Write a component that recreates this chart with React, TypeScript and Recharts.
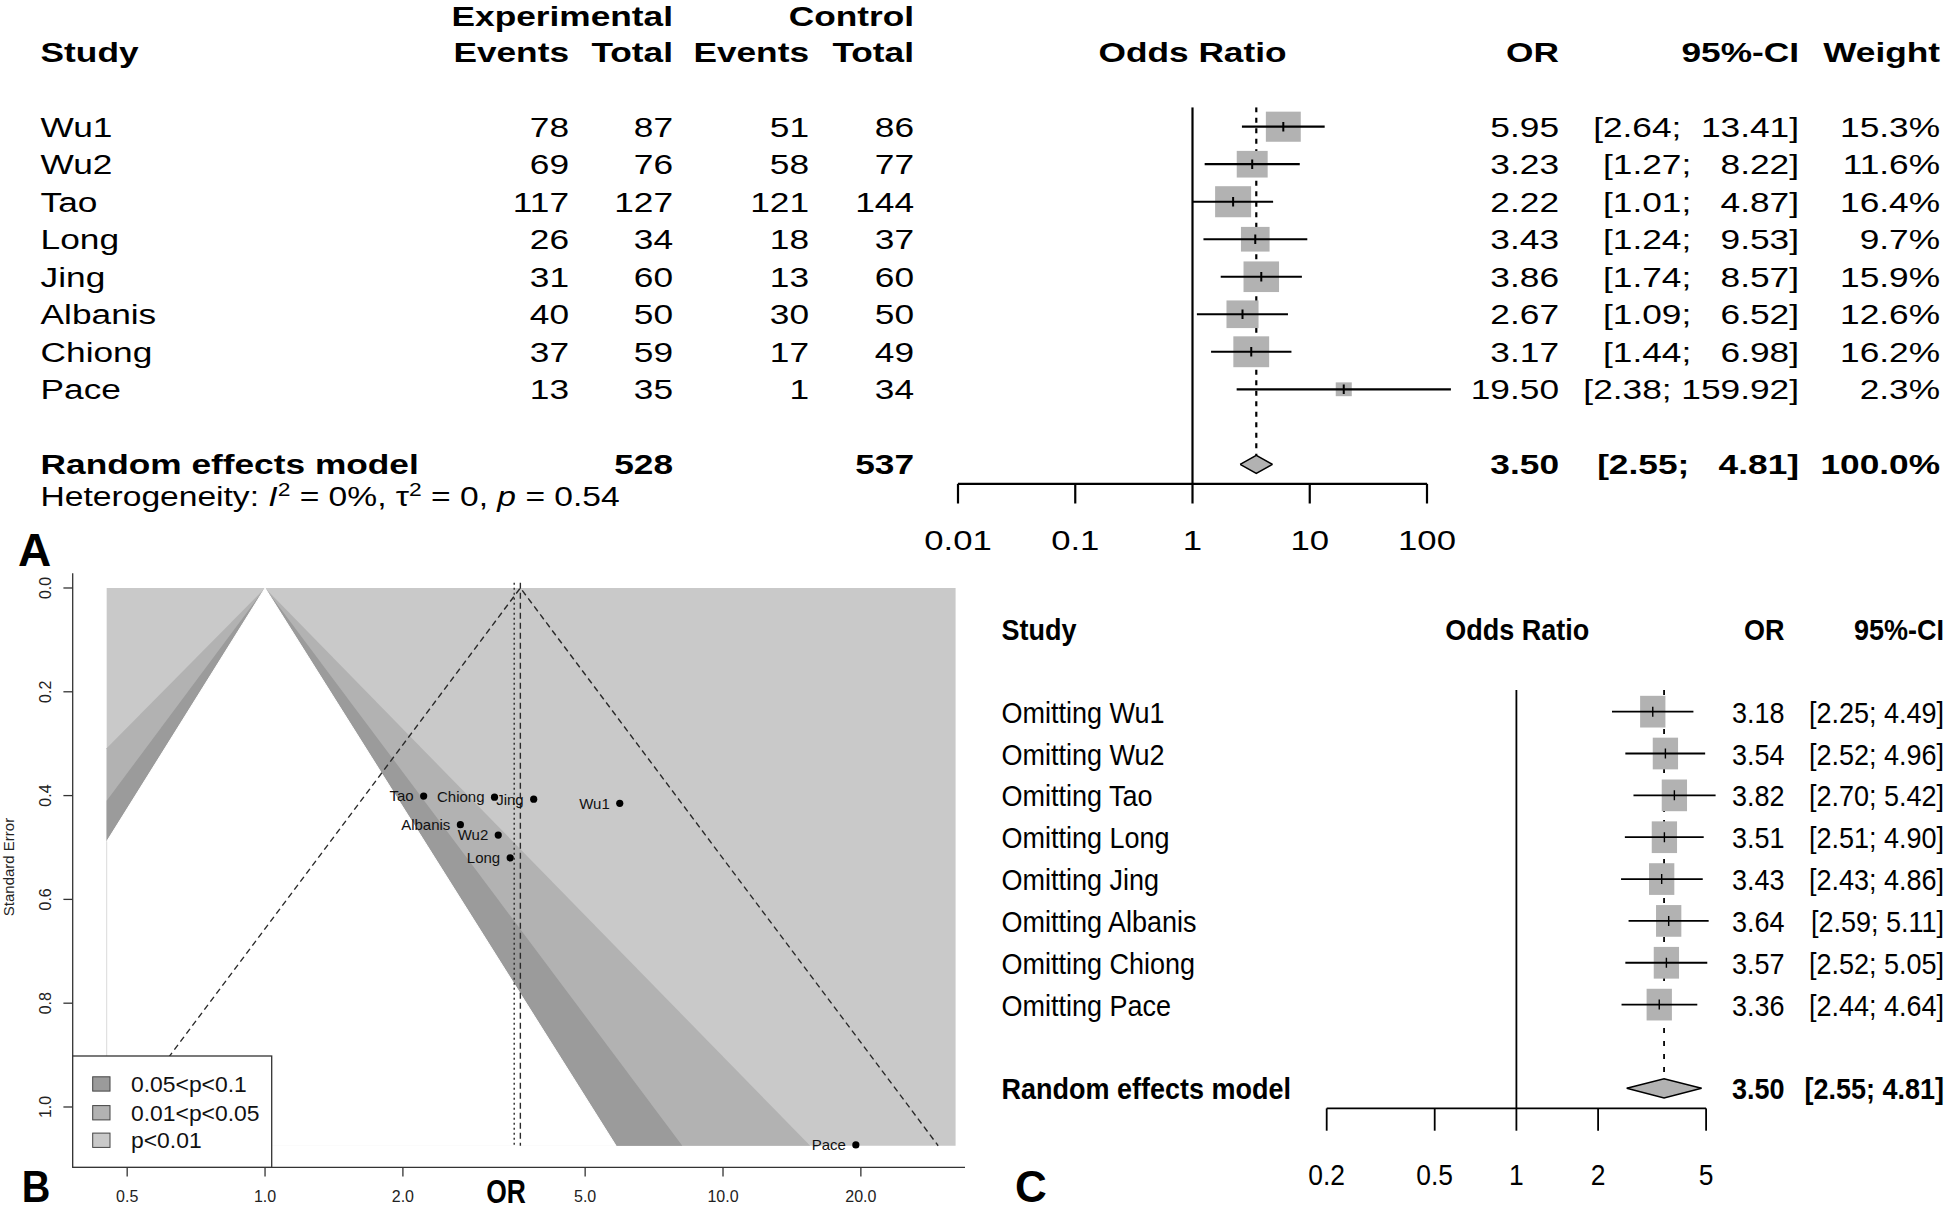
import React from "react";
import { Area, ComposedChart, Line, ReferenceLine, Scatter, XAxis, YAxis } from "recharts";

const FONT = '"Liberation Sans", Arial, Helvetica, sans-serif';
const W = 1946;
const H = 1210;

// panel A: study table + forest plot
const studies = ["Wu1", "Wu2", "Tao", "Long", "Jing", "Albanis", "Chiong", "Pace"];
const expEvents = [78, 69, 117, 26, 31, 40, 37, 13];
const expTotal = [87, 76, 127, 34, 60, 50, 59, 35];
const ctrlEvents = [51, 58, 121, 18, 13, 30, 17, 1];
const ctrlTotal = [86, 77, 144, 37, 60, 50, 49, 34];
const oddsRatios = [5.95, 3.23, 2.22, 3.43, 3.86, 2.67, 3.17, 19.5];
const ciLower = [2.64, 1.27, 1.01, 1.24, 1.74, 1.09, 1.44, 2.38];
const ciUpper = [13.41, 8.22, 4.87, 9.53, 8.57, 6.52, 6.98, 159.92];
const weights = [15.3, 11.6, 16.4, 9.7, 15.9, 12.6, 16.2, 2.3];
const pooled = [3.5, 2.55, 4.81]; // OR, lower, upper
const pooledTotals = [528, 537];
const heterogeneity = ["0%", "0", "0.54"]; // I2, tau2, p
const ticksA = [0.01, 0.1, 1, 10, 100];

// panel B: contour-enhanced funnel plot
const standardErrors = [0.415, 0.476, 0.401, 0.52, 0.407, 0.456, 0.403, 1.073];
const funnelCentre = 3.61;
const contourLabels = ["0.05<p<0.1", "0.01<p<0.05", "p<0.01"];
const contourColors = ["#9b9b9b", "#b2b2b2", "#c9c9c9"];
const contourLeftSE = [0.4885, 0.41, 0.309]; // p = 0.10, 0.05, 0.01 boundaries at left edge
const contourBottomOR = [5.84, 8.15, 15.5]; // same boundaries at the bottom edge
const funnelEdgesOR = [0.451, 32.2];
const funnelMaxSE = 1.0746;
const funnelLineEnds = [0.4415, 29.5];
const funnelLineTopSE = -0.01;
const ticksBX = [0.5, 1, 2, 5, 10, 20];
const ticksBY = [0, 0.2, 0.4, 0.6, 0.8, 1.0];

// panel C: leave-one-out
const looOR = [3.18, 3.54, 3.82, 3.51, 3.43, 3.64, 3.57, 3.36];
const looLower = [2.25, 2.52, 2.7, 2.51, 2.43, 2.59, 2.52, 2.44];
const looUpper = [4.49, 4.96, 5.42, 4.9, 4.86, 5.11, 5.05, 4.64];
const ticksC = [0.2, 0.5, 1, 2, 5];

type TProps = {
  x: number;
  y: number;
  size: number;
  sx?: number;
  anchor?: "start" | "middle" | "end";
  bold?: boolean;
  fill?: string;
  rotate?: number;
  children: React.ReactNode;
};

function T({ x, y, size, sx = 1, anchor = "start", bold = false, fill = "#000", rotate = 0, children }: TProps) {
  const tf = `translate(${x},${y})${rotate ? ` rotate(${rotate})` : ""} scale(${sx},1)`;
  return (
    <text
      transform={tf}
      textAnchor={anchor}
      fontSize={size}
      fontWeight={bold ? 700 : 400}
      fill={fill}
      fontFamily={FONT}
      xmlSpace="preserve"
      style={{ whiteSpace: "pre" }}
    >
      {children}
    </text>
  );
}

type ForestCfg = {
  left: number;
  decade: number;
  domain: [number, number];
  ticks: number[];
  top: number;
  rowH: number;
  yDomain: [number, number];
  tickSize: number;
  tickOffset: number;
  fontSize: number;
  sx: number;
  lineW: number;
  diamondH: number;
  dash: string;
  box: (w: number) => [number, number];
  tickHalf: number;
  tickW: number;
};

type ForestRow = { name: string; x: number; y: number; lo: number; hi: number; w: number };

const noShape = () => <g />;

function Forest({ cfg, rows, summary }: { cfg: ForestCfg; rows: ForestRow[]; summary: number[] }) {
  const plotW = Math.log10(cfg.domain[1] / cfg.domain[0]) * cfg.decade;
  const plotH = (cfg.yDomain[1] - cfg.yDomain[0]) * cfg.rowH;
  const axisH = 60;
  const margin = {
    left: cfg.left,
    top: cfg.top,
    right: W - cfg.left - plotW,
    bottom: H - cfg.top - plotH - axisH,
  };
  const sumRow = rows.length + 2;
  const [est, lo, hi] = summary;
  const diamond = [
    { x: lo, band: [sumRow, sumRow] },
    { x: est, band: [sumRow - cfg.diamondH, sumRow + cfg.diamondH] },
    { x: hi, band: [sumRow, sumRow] },
  ];

  const boxShape = (p: any) => {
    const [bw, bh] = cfg.box(p.payload.w);
    return (
      <g>
        <rect x={p.cx - bw / 2} y={p.cy - bh / 2} width={bw} height={bh} fill="#b2b2b2" />
        <line x1={p.cx} x2={p.cx} y1={p.cy - cfg.tickHalf} y2={p.cy + cfg.tickHalf} stroke="#000" strokeWidth={cfg.tickW} />
      </g>
    );
  };

  const tick = (p: any) => (
    <text
      transform={`translate(${p.x},${p.y + cfg.tickOffset}) scale(${cfg.sx},1)`}
      textAnchor="middle"
      fontSize={cfg.fontSize}
      fontFamily={FONT}
      fill="#000"
    >
      {String(p.payload.value)}
    </text>
  );

  return (
    <ComposedChart width={W} height={H} margin={margin}>
      <XAxis
        type="number"
        dataKey="x"
        scale="log"
        domain={cfg.domain}
        allowDataOverflow
        ticks={cfg.ticks}
        interval={0}
        axisLine={false}
        tickSize={cfg.tickSize}
        tickLine={{ stroke: "#000", strokeWidth: cfg.lineW }}
        tick={tick}
        height={axisH}
      />
      <YAxis type="number" dataKey="y" domain={cfg.yDomain} allowDataOverflow reversed hide />
      <Area
        data={diamond}
        dataKey="band"
        type="linear"
        fill="#b2b2b2"
        fillOpacity={1}
        stroke="#000"
        strokeWidth={1.5}
        isAnimationActive={false}
      />
      <Line
        data={[
          { x: 1, y: cfg.yDomain[0] },
          { x: 1, y: cfg.yDomain[1] },
        ]}
        dataKey="y"
        stroke="#000"
        strokeWidth={cfg.lineW}
        dot={false}
        isAnimationActive={false}
      />
      <Line
        data={[
          { x: est, y: cfg.yDomain[0] },
          { x: est, y: sumRow - cfg.diamondH },
        ]}
        dataKey="y"
        stroke="#000"
        strokeWidth={cfg.lineW}
        strokeDasharray={cfg.dash}
        dot={false}
        isAnimationActive={false}
      />
      <Scatter data={rows} shape={boxShape} isAnimationActive={false} />
      {rows.map((r) => (
        <Scatter
          key={r.name}
          data={[
            { x: r.lo, y: r.y },
            { x: r.hi, y: r.y },
          ]}
          line={{ stroke: "#000", strokeWidth: cfg.lineW }}
          stroke="#000"
          strokeWidth={cfg.lineW}
          shape={noShape}
          isAnimationActive={false}
        />
      ))}
      <ReferenceLine
        segment={[
          { x: cfg.ticks[0], y: cfg.yDomain[1] },
          { x: cfg.ticks[cfg.ticks.length - 1], y: cfg.yDomain[1] },
        ]}
        stroke="#000"
        strokeWidth={cfg.lineW}
        ifOverflow="visible"
      />
    </ComposedChart>
  );
}

const cfgA: ForestCfg = {
  left: 958,
  decade: 117.25,
  domain: [0.01, 200],
  ticks: ticksA,
  top: 107.2,
  rowH: 37.51,
  yDomain: [0.48, 10.52],
  tickSize: 19.7,
  tickOffset: 44.2,
  fontSize: 28,
  sx: 1.24,
  lineW: 2.2,
  diamondH: 0.24,
  dash: "5 5.5",
  box: (w) => {
    const h = 6.8 * Math.sqrt(w) + 3.5;
    return [h * 1.16, h];
  },
  tickHalf: 4.7,
  tickW: 2,
};

const cfgC: ForestCfg = {
  left: 1326.7,
  decade: 271.4,
  domain: [0.2, 6],
  ticks: ticksC,
  top: 689.9,
  rowH: 41.85,
  yDomain: [0.48, 10.48],
  tickSize: 22.3,
  tickOffset: 52.7,
  fontSize: 30,
  sx: 0.88,
  lineW: 1.8,
  diamondH: 0.23,
  dash: "5 8",
  box: () => [25.3, 31.7],
  tickHalf: 5,
  tickW: 1.4,
};

const rowsA: ForestRow[] = studies.map((name, i) => ({
  name,
  x: oddsRatios[i],
  y: i + 1,
  lo: ciLower[i],
  hi: ciUpper[i],
  w: weights[i],
}));

const rowsC: ForestRow[] = studies.map((name, i) => ({
  name,
  x: looOR[i],
  y: i + 1,
  lo: looLower[i],
  hi: looUpper[i],
  w: 1,
}));

function Funnel() {
  const rows = studies.map((name, i) => ({ name, x: oddsRatios[i], y: standardErrors[i] }));
  const [edgeL, edgeR] = funnelEdgesOR;
  const background = [
    { x: edgeL, band: [0, funnelMaxSE] },
    { x: edgeR, band: [0, funnelMaxSE] },
  ];
  // nested triangles: widest first, white (p>0.1) last
  const fills = ["#ffffff", contourColors[0], contourColors[1]];
  const triangles = [2, 1, 0].map((k) => ({
    fill: fills[k],
    stroke: k === 0 ? "#ffffff" : "none",
    data: [
      { x: edgeL, band: [contourLeftSE[k], funnelMaxSE] },
      { x: 1, band: [0, funnelMaxSE] },
      { x: contourBottomOR[k], band: [funnelMaxSE, funnelMaxSE] },
    ],
  }));

  const dotShape = (p: any) => (
    <g>
      <circle cx={p.cx} cy={p.cy} r={3.6} fill="#000" />
      <text x={p.cx - 10} y={p.cy + 5.3} textAnchor="end" fontSize={15} fontFamily={FONT} fill="#111">
        {p.payload.name}
      </text>
    </g>
  );

  const xTick = (p: any) => (
    <text x={p.x} y={p.y + 23.8} textAnchor="middle" fontSize={16} fontFamily={FONT} fill="#222">
      {Number(p.payload.value).toFixed(1)}
    </text>
  );
  const yTick = (p: any) => (
    <text
      transform={`translate(${p.x - 10.7},${p.y}) rotate(-90)`}
      textAnchor="middle"
      fontSize={16}
      fontFamily={FONT}
      fill="#222"
    >
      {Number(p.payload.value).toFixed(1)}
    </text>
  );

  return (
    <ComposedChart width={W} height={H} margin={{ left: 0, top: 573.3, right: W - 965, bottom: H - 1167.3 - 40 }}>
      <XAxis
        type="number"
        dataKey="x"
        scale="log"
        domain={[0.3802, 33.76]}
        allowDataOverflow
        ticks={ticksBX}
        interval={0}
        height={40}
        tickSize={9.3}
        axisLine={{ stroke: "#333", strokeWidth: 1.3 }}
        tickLine={{ stroke: "#333", strokeWidth: 1.3 }}
        tick={xTick}
      />
      <YAxis
        type="number"
        dataKey="y"
        domain={[-0.0283, 1.1162]}
        allowDataOverflow
        reversed
        ticks={ticksBY}
        interval={0}
        width={72.7}
        tickSize={9.3}
        axisLine={{ stroke: "#333", strokeWidth: 1.3 }}
        tickLine={{ stroke: "#333", strokeWidth: 1.3 }}
        tick={yTick}
      />
      <Area
        data={background}
        dataKey="band"
        type="linear"
        fill={contourColors[2]}
        fillOpacity={1}
        stroke="none"
        isAnimationActive={false}
      />
      {triangles.map((t, i) => (
        <Area
          key={i}
          data={t.data}
          dataKey="band"
          type="linear"
          fill={t.fill}
          fillOpacity={1}
          stroke={t.stroke}
          strokeWidth={1}
          isAnimationActive={false}
        />
      ))}
      <Line
        data={[
          { x: edgeL, y: contourLeftSE[0] },
          { x: edgeL, y: funnelMaxSE },
        ]}
        dataKey="y"
        stroke="#e2e2e2"
        strokeWidth={1.2}
        dot={false}
        isAnimationActive={false}
      />
      <Line
        data={[
          { x: funnelLineEnds[0], y: funnelMaxSE },
          { x: funnelCentre, y: 0 },
          { x: funnelLineEnds[1], y: funnelMaxSE },
        ]}
        dataKey="y"
        stroke="#2a2a2a"
        strokeWidth={1.4}
        strokeDasharray="6 4"
        dot={false}
        isAnimationActive={false}
      />
      <Line
        data={[
          { x: funnelCentre, y: funnelLineTopSE },
          { x: funnelCentre, y: funnelMaxSE },
        ]}
        dataKey="y"
        stroke="#2a2a2a"
        strokeWidth={1.4}
        strokeDasharray="6 4"
        dot={false}
        isAnimationActive={false}
      />
      <Line
        data={[
          { x: pooled[0], y: funnelLineTopSE },
          { x: pooled[0], y: funnelMaxSE },
        ]}
        dataKey="y"
        stroke="#2a2a2a"
        strokeWidth={1.4}
        strokeDasharray="2 3"
        dot={false}
        isAnimationActive={false}
      />
      <Scatter data={rows} shape={dotShape} isAnimationActive={false} />
    </ComposedChart>
  );
}

const fmtCI = (lo: number, hi: number, pad: number) => `[${lo.toFixed(2)}; ${hi.toFixed(2).padStart(pad)}]`;

function Overlay() {
  const rowA = (i: number) => 89.2 + 37.51 * i;
  const rowC = (i: number) => 669.85 + 41.85 * i;
  const fa = 28;
  const sa = 1.26;
  const fc = 30;
  const sc = 0.9;
  const sumA = rowA(10) + 9.8;
  const sumC = rowC(10) + 11;
  const legendY = [1084, 1112.8, 1140.3];

  return (
    <svg width={W} height={H} style={{ position: "absolute", left: 0, top: 0, pointerEvents: "none" }}>
      {/* panel A header */}
      <T x={673} y={25.8} size={fa} sx={sa} anchor="end" bold>Experimental</T>
      <T x={914} y={25.8} size={fa} sx={sa} anchor="end" bold>Control</T>
      <T x={40.6} y={62} size={fa} sx={sa} bold>Study</T>
      <T x={569} y={62} size={fa} sx={sa} anchor="end" bold>Events</T>
      <T x={673} y={62} size={fa} sx={sa} anchor="end" bold>Total</T>
      <T x={809} y={62} size={fa} sx={sa} anchor="end" bold>Events</T>
      <T x={914} y={62} size={fa} sx={sa} anchor="end" bold>Total</T>
      <T x={1192.5} y={62} size={fa} sx={sa} anchor="middle" bold>Odds Ratio</T>
      <T x={1559} y={62} size={fa} sx={sa} anchor="end" bold>OR</T>
      <T x={1799} y={62} size={fa} sx={sa} anchor="end" bold>95%-CI</T>
      <T x={1940} y={62} size={fa} sx={sa} anchor="end" bold>Weight</T>
      {studies.map((name, i) => {
        const y = rowA(i + 1) + 9.8;
        return (
          <g key={name}>
            <T x={40.6} y={y} size={fa} sx={sa}>{name}</T>
            <T x={569} y={y} size={fa} sx={sa} anchor="end">{String(expEvents[i])}</T>
            <T x={673} y={y} size={fa} sx={sa} anchor="end">{String(expTotal[i])}</T>
            <T x={809} y={y} size={fa} sx={sa} anchor="end">{String(ctrlEvents[i])}</T>
            <T x={914} y={y} size={fa} sx={sa} anchor="end">{String(ctrlTotal[i])}</T>
            <T x={1559} y={y} size={fa} sx={sa} anchor="end">{oddsRatios[i].toFixed(2)}</T>
            <T x={1799} y={y} size={fa} sx={sa} anchor="end">{fmtCI(ciLower[i], ciUpper[i], 6)}</T>
            <T x={1940} y={y} size={fa} sx={sa} anchor="end">{`${weights[i].toFixed(1)}%`}</T>
          </g>
        );
      })}
      <T x={40.6} y={sumA} size={fa} sx={sa} bold>Random effects model</T>
      <T x={673} y={sumA} size={fa} sx={sa} anchor="end" bold>{String(pooledTotals[0])}</T>
      <T x={914} y={sumA} size={fa} sx={sa} anchor="end" bold>{String(pooledTotals[1])}</T>
      <T x={1559} y={sumA} size={fa} sx={sa} anchor="end" bold>{pooled[0].toFixed(2)}</T>
      <T x={1799} y={sumA} size={fa} sx={sa} anchor="end" bold>{fmtCI(pooled[1], pooled[2], 6)}</T>
      <T x={1940} y={sumA} size={fa} sx={sa} anchor="end" bold>100.0%</T>
      <text
        transform="translate(40.6,506) scale(1.2,1)"
        fontSize={fa}
        fontFamily={FONT}
        fill="#000"
        xmlSpace="preserve"
        style={{ whiteSpace: "pre" }}
      >
        {"Heterogeneity: "}
        <tspan fontStyle="italic">I</tspan>
        <tspan dy={-10} fontSize={19}>2</tspan>
        <tspan dy={10}>{` = ${heterogeneity[0]}, \u03c4`}</tspan>
        <tspan dy={-10} fontSize={19}>2</tspan>
        <tspan dy={10}>{` = ${heterogeneity[1]}, `}</tspan>
        <tspan fontStyle="italic">p</tspan>
        <tspan>{` = ${heterogeneity[2]}`}</tspan>
      </text>

      {/* panel B labels + legend */}
      <T x={14} y={867} size={15} rotate={-90} anchor="middle" fill="#222">Standard Error</T>
      <T x={506} y={1203} size={33} sx={0.8} anchor="middle" bold>OR</T>
      <rect x={72.7} y={1056} width={199} height={111.3} fill="#fff" stroke="#333" strokeWidth={1.3} />
      {contourLabels.map((lab, i) => (
        <g key={lab}>
          <rect x={92.7} y={legendY[i] - 7.2} width={17.3} height={14.3} fill={contourColors[i]} stroke="#444" strokeWidth={1} />
          <T x={131} y={legendY[i] + 7.9} size={22} sx={1.04} fill="#111">{lab}</T>
        </g>
      ))}

      {/* panel C header + rows */}
      <T x={1001.6} y={640} size={fc} sx={sc} bold>Study</T>
      <T x={1517.2} y={640} size={fc} sx={sc} anchor="middle" bold>Odds Ratio</T>
      <T x={1784.5} y={640} size={fc} sx={sc} anchor="end" bold>OR</T>
      <T x={1944} y={640} size={fc} sx={sc} anchor="end" bold>95%-CI</T>
      {studies.map((name, i) => {
        const y = rowC(i + 1) + 11;
        return (
          <g key={name}>
            <T x={1001.6} y={y} size={fc} sx={sc}>{`Omitting ${name}`}</T>
            <T x={1784.5} y={y} size={fc} sx={sc} anchor="end">{looOR[i].toFixed(2)}</T>
            <T x={1944} y={y} size={fc} sx={sc} anchor="end">{`[${looLower[i].toFixed(2)}; ${looUpper[i].toFixed(2)}]`}</T>
          </g>
        );
      })}
      <T x={1001.6} y={sumC} size={fc} sx={sc} bold>Random effects model</T>
      <T x={1784.5} y={sumC} size={fc} sx={sc} anchor="end" bold>{pooled[0].toFixed(2)}</T>
      <T x={1944} y={sumC} size={fc} sx={sc} anchor="end" bold>{`[${pooled[1].toFixed(2)}; ${pooled[2].toFixed(2)}]`}</T>

      {/* panel letters */}
      <T x={18} y={566} size={46} bold>A</T>
      <T x={21.7} y={1201.7} size={44} sx={0.9} bold>B</T>
      <T x={1015} y={1202} size={44} bold>C</T>
    </svg>
  );
}

export default function App() {
  return (
    <div style={{ position: "absolute", left: 0, top: 0, width: W, height: H, background: "#fff", overflow: "hidden" }}>
      <div style={{ position: "absolute", left: 0, top: 0 }}>
        <Funnel />
      </div>
      <div style={{ position: "absolute", left: 0, top: 0 }}>
        <Forest cfg={cfgA} rows={rowsA} summary={pooled} />
      </div>
      <div style={{ position: "absolute", left: 0, top: 0 }}>
        <Forest cfg={cfgC} rows={rowsC} summary={pooled} />
      </div>
      <Overlay />
    </div>
  );
}
